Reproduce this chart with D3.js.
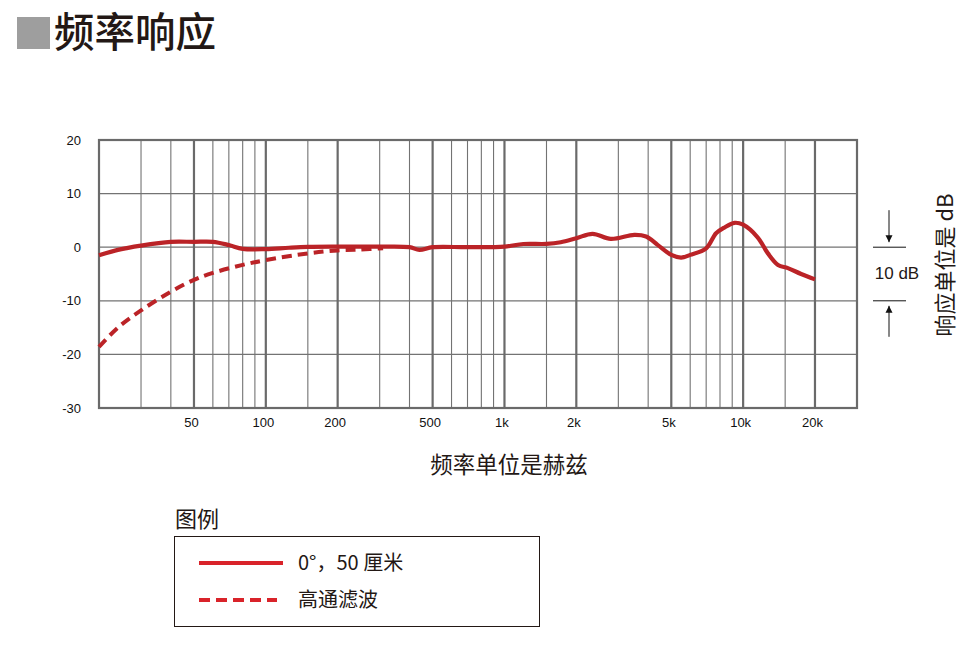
<!DOCTYPE html>
<html><head><meta charset="utf-8">
<script src="https://cdn.jsdelivr.net/npm/d3@7/dist/d3.min.js"></script>
<style>
body{margin:0;background:#fff;}
svg{display:block;}
</style></head>
<body>
<svg id="chart" width="974" height="646"></svg>
<script>
// ---- data ----
const solidFreq = [20, 24, 30, 40, 50, 60, 70, 80, 100, 125, 150, 200, 300, 400, 440, 500, 700, 1000, 1200, 1500, 1720, 2000, 2340, 2790, 3500, 3920, 4380, 5000, 5500, 6000, 7000, 7700, 8300, 9200, 10000, 11500, 12700, 14000, 15400, 17500, 20000];
const solidDb   = [-1.5, -0.5, 0.3, 1.0, 1.0, 1.0, 0.4, -0.3, -0.35, -0.1, 0.05, 0.1, 0.1, 0.0, -0.5, 0.0, 0.0, 0.1, 0.6, 0.62, 0.93, 1.68, 2.5, 1.55, 2.3, 2.0, 0.44, -1.43, -1.93, -1.43, -0.2, 2.6, 3.6, 4.55, 4.2, 1.85, -1.15, -3.3, -3.9, -5.0, -6.0];
const hpFreq = [20, 24, 30, 40, 50, 60, 80, 100, 150, 200, 250, 310];
const hpDb   = [-18.6, -15.0, -11.8, -8.3, -6.1, -4.8, -3.3, -2.4, -1.15, -0.6, -0.45, -0.2];
const yTicks = [20, 10, 0, -10, -20, -30];
const xTicks = [50, 100, 200, 500, 1000, 2000, 5000, 10000, 20000];
const xTickLabels = ["50", "100", "200", "500", "1k", "2k", "5k", "10k", "20k"];
const minorGrid = [30, 40, 60, 70, 80, 90, 150, 300, 400, 600, 700, 800, 900, 1500, 3000, 4000, 6000, 7000, 8000, 9000, 15000];
const legendLabels = ["0°，50 厘米", "高通滤波"];

// ---- layout ----
const svg = d3.select("#chart");
const L = 99, R = 857, T = 140, B = 408;
const x = d3.scaleLog().domain([20, 30000]).range([L, R]);
const y = d3.scaleLinear().domain([-30, 20]).range([B, T]);
const red = "#bb2327", legendRed = "#d9232a", grid = "#737373", ink = "#231815";
const latin = "'Liberation Sans', Arial, sans-serif";
const cjk = "'Noto Sans CJK SC', 'Noto Sans', sans-serif";

// title
svg.append("rect").attr("x", 17).attr("y", 17).attr("width", 33).attr("height", 32).attr("fill", "#9e9e9e");
svg.append("text").attr("x", 54).attr("y", 47).attr("font-family", cjk).attr("font-weight", 500)
  .attr("font-size", 40.5).attr("fill", ink).text("频率响应");

// grid
const g = svg.append("g");
g.selectAll(".hg").data(yTicks.slice(1, -1)).enter().append("line")
  .attr("x1", L).attr("x2", R).attr("y1", d => y(d)).attr("y2", d => y(d))
  .attr("stroke", grid).attr("stroke-width", 1.2);
g.selectAll(".mg").data(minorGrid).enter().append("line")
  .attr("x1", d => x(d)).attr("x2", d => x(d)).attr("y1", T).attr("y2", B)
  .attr("stroke", grid).attr("stroke-width", 1.1);
g.selectAll(".Mg").data(xTicks).enter().append("line")
  .attr("x1", d => x(d)).attr("x2", d => x(d)).attr("y1", T).attr("y2", B)
  .attr("stroke", "#6a6a6a").attr("stroke-width", 2.2);
g.append("rect").attr("x", L).attr("y", T).attr("width", R - L).attr("height", B - T)
  .attr("fill", "none").attr("stroke", "#6a6a6a").attr("stroke-width", 2.2);

// axes (labels only)
const yAxis = svg.append("g").attr("transform", `translate(${L - 18},0)`)
  .call(d3.axisLeft(y).tickValues(yTicks).tickSize(0).tickPadding(0).tickFormat(d => String(d)));
yAxis.select(".domain").remove();
yAxis.selectAll("text").attr("font-family", latin).attr("font-size", 13).attr("fill", "#111");

const xAxis = svg.append("g").attr("transform", `translate(-3,${B + 10})`)
  .call(d3.axisBottom(x).tickValues(xTicks).tickSize(0).tickPadding(0).tickFormat((d, i) => xTickLabels[i]));
xAxis.select(".domain").remove();
xAxis.selectAll("text").attr("font-family", latin).attr("font-size", 13).attr("fill", "#111");

// curves
const line = d3.line().x(d => x(d[0])).y(d => y(d[1])).curve(d3.curveCatmullRom.alpha(0.5));
svg.append("path").datum(hpFreq.map((f, i) => [f, hpDb[i]])).attr("d", line)
  .attr("fill", "none").attr("stroke", red).attr("stroke-width", 4).attr("stroke-dasharray", "10,6");
svg.append("path").datum(solidFreq.map((f, i) => [f, solidDb[i]])).attr("d", line)
  .attr("fill", "none").attr("stroke", red).attr("stroke-width", 4.2).attr("stroke-linejoin", "round");

// x title
svg.append("text").attr("x", 509).attr("y", 473).attr("text-anchor", "middle")
  .attr("font-family", cjk).attr("font-size", 22.5).attr("fill", ink).text("频率单位是赫兹");

// right annotation
const ax = 889;
svg.append("defs").append("marker").attr("id", "ah").attr("viewBox", "0 0 10 10")
  .attr("refX", 10).attr("refY", 5).attr("markerWidth", 7).attr("markerHeight", 9)
  .attr("markerUnits", "userSpaceOnUse").attr("orient", "auto")
  .append("path").attr("d", "M0,0 L10,5 L0,10 Z").attr("fill", "#111");
[0, -10].forEach(v => {
  svg.append("line").attr("x1", 873).attr("x2", 906).attr("y1", y(v)).attr("y2", y(v))
    .attr("stroke", "#111").attr("stroke-width", 1);
});
svg.append("line").attr("x1", ax).attr("x2", ax).attr("y1", y(0) - 37).attr("y2", y(0) - 5)
  .attr("stroke", "#111").attr("stroke-width", 1).attr("marker-end", "url(#ah)");
svg.append("line").attr("x1", ax).attr("x2", ax).attr("y1", y(-10) + 36).attr("y2", y(-10) + 5)
  .attr("stroke", "#111").attr("stroke-width", 1).attr("marker-end", "url(#ah)");
svg.append("text").attr("x", 897).attr("y", 279).attr("text-anchor", "middle")
  .attr("font-family", latin).attr("font-size", 17).attr("fill", ink).text("10 dB");
svg.append("text").attr("transform", "translate(953,265) rotate(-90)").attr("text-anchor", "middle")
  .attr("font-family", cjk).attr("font-size", 22).attr("fill", ink).text("响应单位是 dB");

// legend
svg.append("text").attr("x", 175).attr("y", 527).attr("font-family", cjk).attr("font-size", 22)
  .attr("fill", ink).text("图例");
svg.append("rect").attr("x", 174.5).attr("y", 536.5).attr("width", 365).attr("height", 90)
  .attr("fill", "none").attr("stroke", "#231815").attr("stroke-width", 1);
const legY = [563, 600];
legendLabels.forEach((lab, i) => {
  svg.append("line").attr("x1", 199).attr("x2", i ? 277 : 283).attr("y1", legY[i]).attr("y2", legY[i])
    .attr("stroke", legendRed).attr("stroke-width", 4).attr("stroke-dasharray", i ? "11,6" : null);
  svg.append("text").attr("x", 298).attr("y", legY[i] + 7).attr("font-family", cjk).attr("font-size", 20)
    .attr("fill", ink).text(lab);
});
</script>
</body></html>
